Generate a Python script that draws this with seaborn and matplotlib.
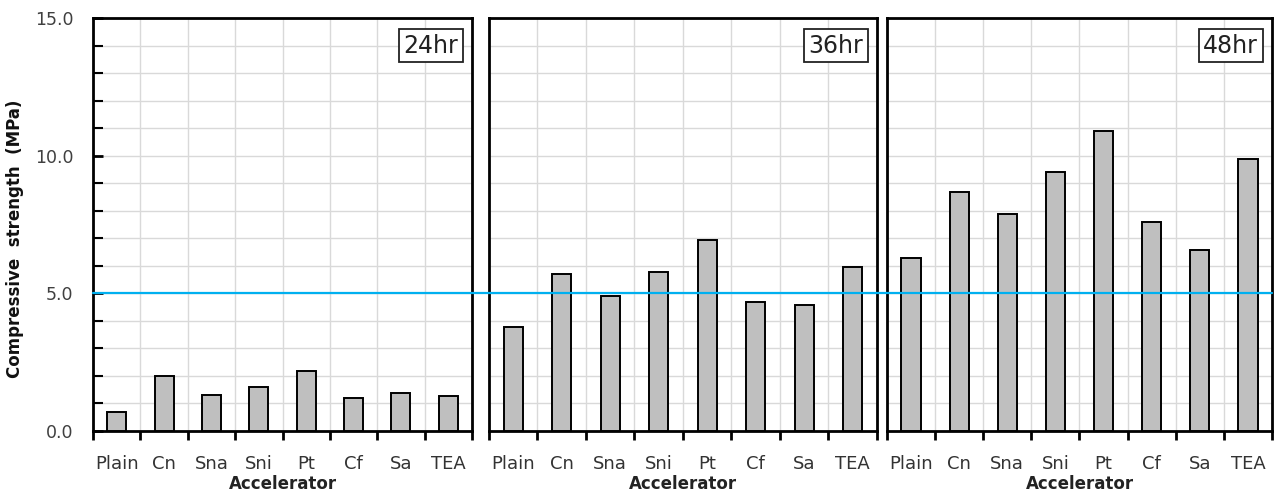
import matplotlib
matplotlib.use("Agg")
import matplotlib.pyplot as plt
from matplotlib.lines import Line2D
from matplotlib.ticker import MultipleLocator, FixedLocator, FormatStrFormatter
import matplotlib.transforms as mtransforms
import numpy as np
import pandas as pd
import seaborn as sns

# Accelerator types and compressive strength (MPa) at each curing age
accelerators = ["Plain", "Cn", "Sna", "Sni", "Pt", "Cf", "Sa", "TEA"]
strength_24hr = [0.70, 2.00, 1.32, 1.60, 2.18, 1.21, 1.38, 1.26]
strength_36hr = [3.77, 5.71, 4.92, 5.77, 6.92, 4.69, 4.58, 5.95]
strength_48hr = [6.29, 8.68, 7.89, 9.42, 10.90, 7.60, 6.58, 9.88]
ages = ["24hr", "36hr", "48hr"]
target_strength = 5.0

sns.set_theme(style="white")
plt.rcParams["font.family"] = ["DejaVu Sans"]

fig = plt.figure(figsize=(12.76, 4.95), dpi=100)
bottom, top = 0.1293, 0.9636
panel_x = [(0.0729, 0.3699), (0.3832, 0.6873), (0.6951, 0.9969)]
series = [strength_24hr, strength_36hr, strength_48hr]

axes = []
for i, ((x0, x1), vals, age) in enumerate(zip(panel_x, series, ages)):
    ax = fig.add_axes([x0, bottom, x1 - x0, top - bottom])
    df = pd.DataFrame({"Accelerator": accelerators, "Strength": vals})
    sns.barplot(data=df, x="Accelerator", y="Strength", color="#bfbfbf",
                edgecolor="black", linewidth=1.4, width=0.4, saturation=1,
                ax=ax, zorder=3)
    ax.set_xlim(-0.5, len(accelerators) - 0.5)
    ax.set_ylim(0, 15)

    # grid: horizontal every 1 MPa, vertical at category boundaries
    ax.yaxis.set_major_locator(MultipleLocator(5))
    ax.yaxis.set_minor_locator(MultipleLocator(1))
    bounds = np.arange(-0.5, len(accelerators), 1.0)
    ax.xaxis.set_minor_locator(FixedLocator(bounds))
    ax.grid(which="both", axis="y", color="#d9d9d9", linewidth=1.0, zorder=0)
    ax.grid(which="minor", axis="x", color="#d9d9d9", linewidth=1.0, zorder=0)
    ax.grid(which="major", axis="x", visible=False)
    ax.set_axisbelow(True)

    for sp in ax.spines.values():
        sp.set_color("black")
        sp.set_linewidth(2.0)
        sp.set_visible(True)

    ax.tick_params(axis="x", which="major", length=0, pad=17,
                   labelsize=13, labelcolor="#333333")
    ax.tick_params(axis="x", which="minor", direction="out", length=6.5,
                   width=2, color="black", bottom=True)
    ax.set_xlabel("Accelerator", fontsize=12, fontweight="bold",
                  color="#222222", labelpad=2)

    if i == 0:
        ax.tick_params(axis="y", which="major", direction="in", length=7,
                       width=2, color="black", left=True, labelsize=12.5,
                       labelcolor="#404040", pad=14)
        ax.tick_params(axis="y", which="minor", direction="in", length=7,
                       width=1.5, color="black", left=True)
        ax.yaxis.set_major_formatter(FormatStrFormatter("%.1f"))
        ax.set_ylabel("Compressive  strength  (MPa)", fontsize=12,
                      fontweight="bold", color="#111111")
        ax.yaxis.set_label_coords(-0.182, 0.466)
    else:
        ax.tick_params(axis="y", which="both", left=False, labelleft=False)
        ax.set_ylabel("")

    ax.text(0.964, 0.962, age, transform=ax.transAxes, ha="right", va="top",
            fontsize=17, color="#222222", zorder=5,
            bbox=dict(boxstyle="square,pad=0.2", facecolor="white",
                      edgecolor="#222222", linewidth=1.3))
    axes.append(ax)

# reference strength line spanning all three panels
trans = mtransforms.blended_transform_factory(fig.transFigure, axes[0].transData)
fig.add_artist(Line2D([panel_x[0][0], panel_x[2][1]], [target_strength] * 2,
                      transform=trans, color="#00b0f0", linewidth=1.6, zorder=10))

fig.savefig("out.png", dpi=100)
